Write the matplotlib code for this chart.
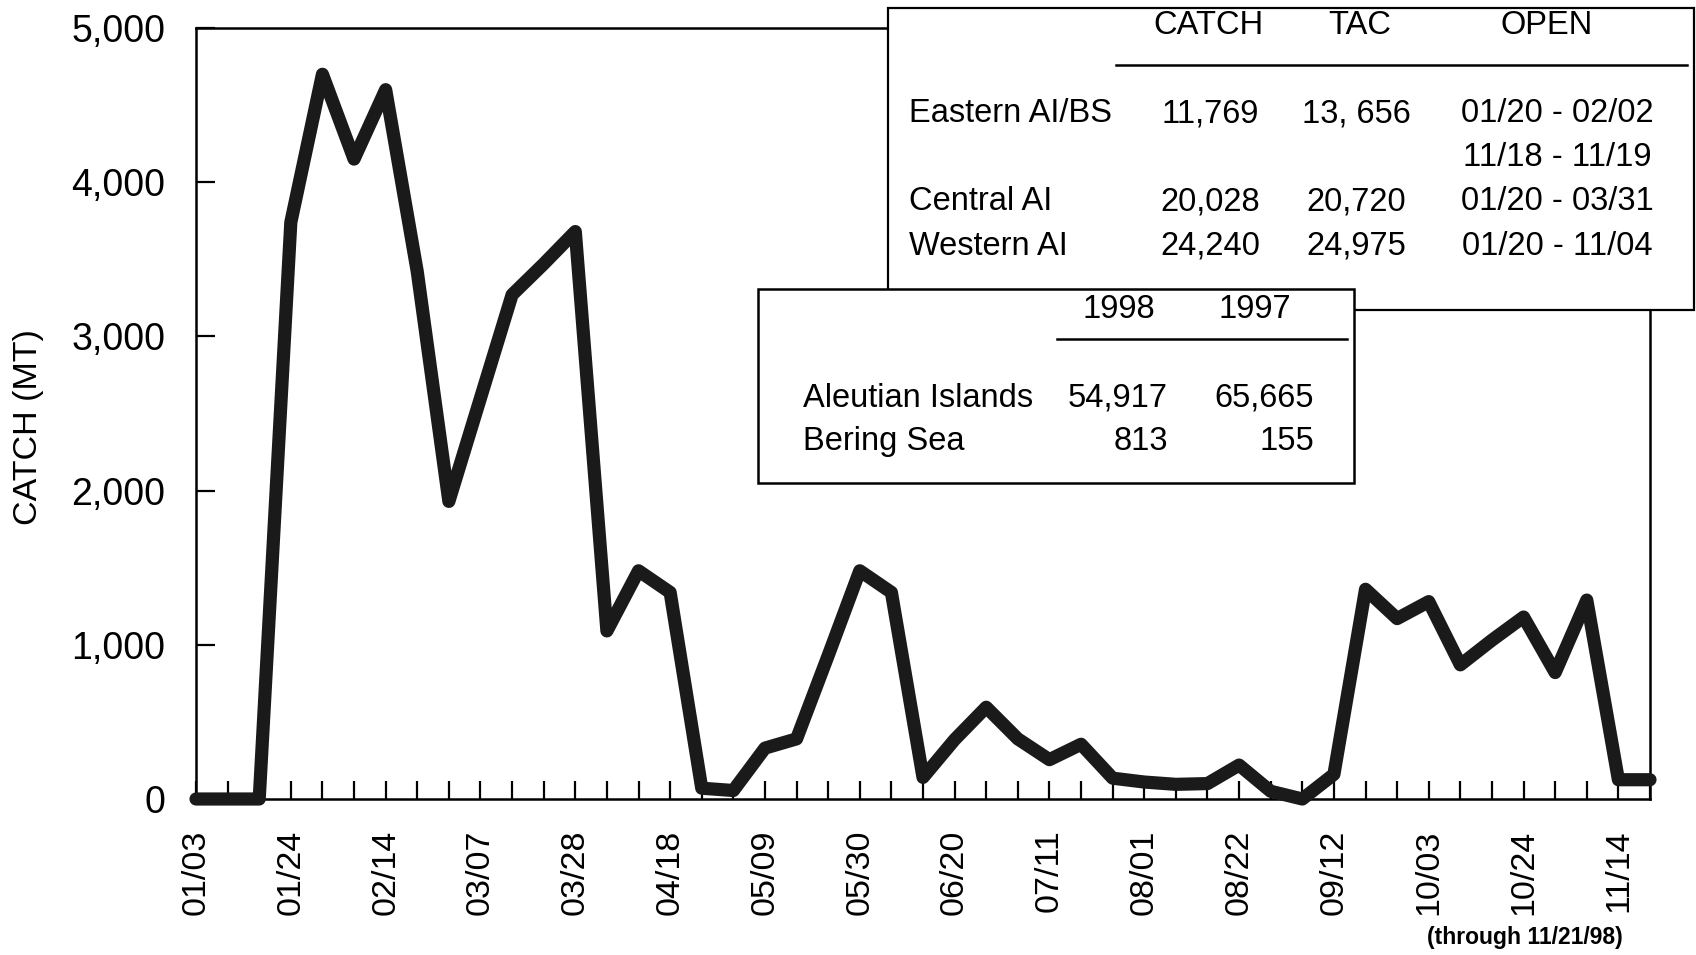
import matplotlib
matplotlib.use("Agg")
import matplotlib.pyplot as plt
from matplotlib.patches import Rectangle
from matplotlib.lines import Line2D
from matplotlib import font_manager as fm

# ---------------- data ----------------
weeks = ['01/03', '01/10', '01/17', '01/24', '01/31', '02/07', '02/14', '02/21',
         '02/28', '03/07', '03/14', '03/21', '03/28', '04/04', '04/11', '04/18',
         '04/25', '05/02', '05/09', '05/16', '05/23', '05/30', '06/06', '06/13',
         '06/20', '06/27', '07/04', '07/11', '07/18', '07/25', '08/01', '08/08',
         '08/15', '08/22', '08/29', '09/05', '09/12', '09/19', '09/26', '10/03',
         '10/10', '10/17', '10/24', '10/31', '11/07', '11/14', '11/21']
catch = [0, 0, 0, 3740, 4700, 4150, 4600, 3420,
         1930, 2600, 3270, 3470, 3680, 1090, 1480, 1340,
         70, 55, 330, 390, 930, 1480, 1340, 140,
         385, 595, 390, 255, 355, 135, 110, 95,
         100, 220, 50, 0, 160, 1360, 1170, 1280,
         870, 1030, 1180, 820, 1290, 125, 125]
label_every = 3
y_ticks = [0, 1000, 2000, 3000, 4000, 5000]
y_label = 'CATCH (MT)'
footnote = '(through 11/21/98)'

t1_header = ['CATCH', 'TAC', 'OPEN']
t1_areas = ['Eastern AI/BS', '', 'Central AI', 'Western AI']
t1_catch = ['11,769', '', '20,028', '24,240']
t1_tac = ['13, 656', '', '20,720', '24,975']
t1_open = ['01/20 - 02/02', '11/18 - 11/19', '01/20 - 03/31', '01/20 - 11/04']

t2_header = ['1998', '1997']
t2_areas = ['Aleutian Islands', 'Bering Sea']
t2_1998 = ['54,917', '813']
t2_1997 = ['65,665', '155']

# ---------------- fonts ----------------
avail = {f.name for f in fm.fontManager.ttflist}
narrow = 'Liberation Sans Narrow' in avail
NF = 'Liberation Sans Narrow' if narrow else 'Liberation Sans'
nsize = 28 if narrow else 23.5
plt.rcParams['font.family'] = ['Liberation Sans', 'DejaVu Sans']

W, H = 1696, 955
fig = plt.figure(figsize=(W / 100, H / 100), dpi=100)


def fx(x):
    return x / W


def fy(y):
    return 1 - y / H


ax = fig.add_axes([fx(196), fy(799), fx(1650) - fx(196), fy(28) - fy(799)])
xs = list(range(len(weeks)))
ax.plot(xs, catch, color='#1a1a1a', lw=9.5, solid_joinstyle='round',
        solid_capstyle='round', clip_on=False, zorder=3)
ax.set_xlim(0, len(weeks) - 1)
ax.set_ylim(y_ticks[0], y_ticks[-1])
ax.set_xticks(xs)
ax.set_xticklabels([w if i % label_every == 0 else '' for i, w in enumerate(weeks)],
                   rotation=90, fontsize=24.5)
ax.set_yticks(y_ticks)
ax.set_yticklabels([f'{v:,}' for v in y_ticks], fontsize=27)
ax.tick_params(axis='x', direction='in', length=13, width=1.6, pad=22)
ax.tick_params(axis='y', direction='in', length=14, width=1.6, pad=22)
for s in ax.spines.values():
    s.set_linewidth(1.8)

fig.text(fx(29), fy(427), y_label, rotation=90, ha='center', va='center',
         fontsize=(nsize + 1) if not narrow else 27, family=NF)
fig.text(fx(1525), fy(937), footnote, ha='center', va='center',
         fontsize=16.5, fontweight='bold', family=NF)

# ---------------- box 1 ----------------
fig.add_artist(Rectangle((fx(888), fy(310)), fx(1694) - fx(888), fy(8) - fy(310),
                         transform=fig.transFigure, facecolor='white',
                         edgecolor='black', lw=1.6, zorder=5))
fig.add_artist(Line2D([fx(1116), fx(1687)], [fy(65), fy(65)],
                      transform=fig.transFigure, color='black', lw=1.8, zorder=6))
hx = [1208, 1360, 1547]
for h, x in zip(t1_header, hx):
    fig.text(fx(x), fy(26), h, ha='center', va='center', fontsize=nsize,
             family=NF, zorder=6)
row_y = [114, 157, 202, 246]
for i, y in enumerate(row_y):
    fig.text(fx(909), fy(y), t1_areas[i], ha='left', va='center',
             fontsize=nsize, family=NF, zorder=6)
    fig.text(fx(1210), fy(y), t1_catch[i], ha='center', va='center',
             fontsize=nsize, family=NF, zorder=6)
    fig.text(fx(1356), fy(y), t1_tac[i], ha='center', va='center',
             fontsize=nsize, family=NF, zorder=6)
    fig.text(fx(1557), fy(y), t1_open[i], ha='center', va='center',
             fontsize=nsize, family=NF, zorder=6)

# ---------------- box 2 ----------------
fig.add_artist(Rectangle((fx(758), fy(483)), fx(1354) - fx(758), fy(289) - fy(483),
                         transform=fig.transFigure, facecolor='white',
                         edgecolor='black', lw=1.8, zorder=7))
fig.add_artist(Line2D([fx(1057), fx(1347)], [fy(339), fy(339)],
                      transform=fig.transFigure, color='black', lw=1.8, zorder=8))
for h, x in zip(t2_header, [1119, 1255]):
    fig.text(fx(x), fy(310), h, ha='center', va='center', fontsize=nsize,
             family=NF, zorder=8)
for i, y in enumerate([398, 441]):
    fig.text(fx(803), fy(y), t2_areas[i], ha='left', va='center',
             fontsize=nsize, family=NF, zorder=8)
    fig.text(fx(1168), fy(y), t2_1998[i], ha='right', va='center',
             fontsize=nsize, family=NF, zorder=8)
    fig.text(fx(1314), fy(y), t2_1997[i], ha='right', va='center',
             fontsize=nsize, family=NF, zorder=8)

fig.savefig('out.png', dpi=100, facecolor='white')
